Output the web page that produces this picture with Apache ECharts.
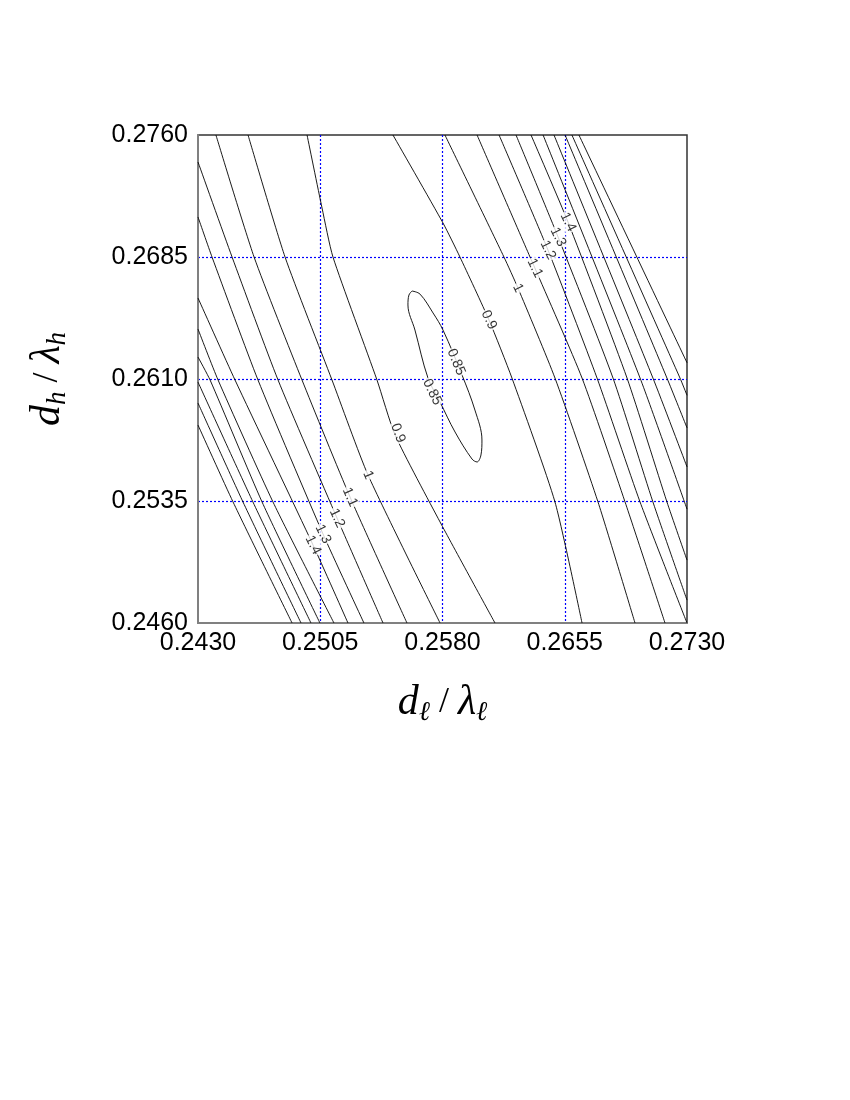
<!DOCTYPE html>
<html>
<head>
    <meta charset="utf-8">
    <title>Contour</title>
    <script src="https://cdn.jsdelivr.net/npm/echarts@6/dist/echarts.min.js"></script>
</head>
<body style="margin:0;background:#fff">
<div id="main" style="width:850px;height:1100px"></div>
<script type="text/javascript">
    // tick values
    var xTicks = [0.2430, 0.2505, 0.2580, 0.2655, 0.2730];
    var yTicks = [0.2460, 0.2535, 0.2610, 0.2685, 0.2760];

    // contour lines, points are [d_l/lambda_l, d_h/lambda_h]
    var c085 = [[0.25613, 0.26641], [0.25662, 0.26622], [0.25742, 0.26506], [0.25803, 0.26401], [0.25920, 0.26124],
        [0.25999, 0.25909], [0.26042, 0.25725], [0.26036, 0.25633], [0.26012, 0.25590], [0.25981, 0.25608],
        [0.25877, 0.25774], [0.25785, 0.25958], [0.25711, 0.26106], [0.25631, 0.26401], [0.25588, 0.26555],
        [0.25594, 0.26616], [0.25613, 0.26641]];

    var c09L = [[0.24969, 0.27600], [0.25061, 0.27151], [0.25128, 0.26850], [0.25398, 0.26094], [0.25509, 0.25756], [0.25785, 0.25221], [0.26122, 0.24600]];
    var c10L = [[0.24607, 0.27600], [0.24834, 0.26850], [0.25122, 0.26094], [0.25343, 0.25510], [0.25785, 0.24600]];
    var c11L = [[0.24410, 0.27600], [0.24644, 0.26850], [0.24938, 0.26094], [0.25233, 0.25374], [0.25582, 0.24600]];
    var c12L = [[0.24300, 0.27434], [0.24509, 0.26850], [0.24791, 0.26094], [0.25153, 0.25245], [0.25435, 0.24600]];
    var c13L = [[0.24300, 0.27096], [0.24386, 0.26850], [0.24668, 0.26094], [0.25067, 0.25147], [0.25318, 0.24600]];
    var c14L = [[0.24300, 0.26598], [0.24527, 0.26094], [0.25006, 0.25079], [0.25220, 0.24600]];
    var c15L = [[0.24300, 0.26407], [0.24423, 0.26094], [0.24760, 0.25344], [0.25134, 0.24600]];
    var c16L = [[0.24300, 0.26235], [0.24374, 0.26094], [0.24693, 0.25344], [0.25048, 0.24600]];
    var c17L = [[0.24300, 0.26081], [0.24637, 0.25344], [0.24993, 0.24600]];
    var c18L = [[0.24300, 0.25952], [0.24576, 0.25344], [0.24932, 0.24600]];
    var c19L = [[0.24300, 0.25817], [0.24515, 0.25344], [0.24877, 0.24600]];

    var c09R = [[0.25496, 0.27600], [0.25803, 0.27059], [0.25907, 0.26850], [0.26085, 0.26463], [0.26226, 0.26106], [0.26490, 0.25344], [0.26656, 0.24600]];
    var c10R = [[0.25815, 0.27600], [0.26177, 0.26850], [0.26263, 0.26659], [0.26490, 0.26106], [0.26754, 0.25344], [0.26981, 0.24600]];
    var c11R = [[0.26012, 0.27600], [0.26337, 0.26850], [0.26367, 0.26782], [0.26656, 0.26106], [0.26920, 0.25344], [0.27165, 0.24600]];
    var c12R = [[0.26147, 0.27600], [0.26447, 0.26893], [0.26748, 0.26106], [0.27012, 0.25344], [0.27300, 0.24600]];
    var c13R = [[0.26251, 0.27600], [0.26509, 0.26973], [0.26846, 0.26106], [0.27091, 0.25344], [0.27300, 0.24741]];
    var c14R = [[0.26343, 0.27600], [0.26570, 0.27065], [0.26932, 0.26106], [0.27177, 0.25344], [0.27300, 0.24987]];
    var c15R = [[0.26417, 0.27600], [0.27012, 0.26106], [0.27300, 0.25300]];
    var c16R = [[0.26484, 0.27600], [0.27091, 0.26106], [0.27300, 0.25560]];
    var c17R = [[0.26552, 0.27600], [0.27177, 0.26106], [0.27300, 0.25800]];
    var c18R = [[0.26594, 0.27600], [0.27257, 0.26106], [0.27300, 0.26000]];
    var c19R = [[0.26637, 0.27600], [0.27300, 0.26200]];

    var contourLines = [c085, c09L, c10L, c11L, c12L, c13L, c14L, c15L, c16L, c17L, c18L, c19L,
        c09R, c10R, c11R, c12R, c13R, c14R, c15R, c16R, c17R, c18R, c19R];

    // inline contour labels
    var labelText = ['0.85', '0.85', '0.9', '0.9', '1', '1', '1.1', '1.1', '1.2', '1.2', '1.3', '1.3', '1.4', '1.4'];
    var labelPos = [[0.25883, 0.26204], [0.25736, 0.26020],
        [0.26085, 0.26463], [0.25527, 0.25768],
        [0.26263, 0.26659], [0.25343, 0.25510],
        [0.26367, 0.26782], [0.25233, 0.25374],
        [0.26447, 0.26893], [0.25153, 0.25245],
        [0.26509, 0.26973], [0.25067, 0.25147],
        [0.26570, 0.27065], [0.25006, 0.25079]];
    var labelAngle = [-67, -64, -65, -70, -64, -67, -64, -66, -64, -65, -64, -64, -64, -64];

    var myChart = echarts.init(document.getElementById('main'), null, { renderer: 'canvas' });

    var series = [];
    contourLines.forEach(function (pts, i) {
        series.push({
            type: 'line',
            data: pts,
            showSymbol: false,
            silent: true,
            smooth: i === 0 ? 0.35 : 0.2,
            lineStyle: { color: '#000', width: 0.9 },
            z: 3
        });
    });

    var labelData = labelText.map(function (t, i) {
        return {
            name: t,
            value: labelPos[i],
            label: { rotate: labelAngle[i] }
        };
    });
    series.push({
        type: 'scatter',
        data: labelData,
        symbolSize: 1,
        silent: true,
        itemStyle: { color: 'rgba(0,0,0,0)' },
        label: {
            show: true,
            position: 'inside',
            formatter: '{b}',
            color: '#000',
            fontSize: 14,
            fontFamily: 'Liberation Sans, Arial, sans-serif',
            backgroundColor: '#fff',
            padding: [0, 1]
        },
        z: 5
    });

    var nameRich = {
        i: { fontFamily: 'Liberation Serif, serif', fontStyle: 'italic', fontSize: 42, lineHeight: 44, color: '#000' },
        g: { fontFamily: 'Liberation Serif, serif', fontStyle: 'italic', fontSize: 42, lineHeight: 44, color: '#000' },
        n: { fontFamily: 'Liberation Serif, serif', fontSize: 36, lineHeight: 44, color: '#000' },
        s: {
            fontFamily: 'Liberation Serif, DejaVu Serif, serif',
            fontStyle: 'italic',
            fontSize: 27,
            lineHeight: 24,
            padding: [20, 0, 0, 0],
            color: '#000'
        }
    };

    var gridLine = {
        show: true, showMinLine: false, showMaxLine: false,
        lineStyle: { color: '#0000ff', type: [2, 2], width: 1.2 }
    };

    var option = {
        animation: false,
        backgroundColor: '#fff',
        grid: {
            left: 198, top: 135, width: 489, height: 488,
            show: true, borderColor: '#333', borderWidth: 1.5
        },
        xAxis: {
            type: 'value',
            min: 0.2430,
            max: 0.2730,
            name: '{i|d}{s|ℓ}{n| / }{g|λ}{s|ℓ}',
            nameLocation: 'middle',
            nameGap: 58,
            nameTextStyle: { rich: nameRich },
            axisLine: { show: true, lineStyle: { color: '#808080', width: 2 } },
            axisTick: { show: false, customValues: xTicks },
            axisLabel: {
                customValues: xTicks,
                formatter: function (v) { return v.toFixed(4); },
                fontSize: 25,
                fontFamily: 'Liberation Sans, Arial, sans-serif',
                color: '#000',
                margin: 8
            },
            splitLine: gridLine
        },
        yAxis: {
            type: 'value',
            min: 0.2460,
            max: 0.2760,
            name: '{i|d}{s|h}{n| / }{g|λ}{s|h}',
            nameLocation: 'middle',
            nameRotate: 90,
            nameGap: 128,
            nameTextStyle: { rich: nameRich },
            axisLine: { show: true, lineStyle: { color: '#808080', width: 2 } },
            axisTick: { show: false, customValues: yTicks },
            axisLabel: {
                customValues: yTicks,
                formatter: function (v) { return v.toFixed(4); },
                fontSize: 25,
                fontFamily: 'Liberation Sans, Arial, sans-serif',
                color: '#000',
                margin: 10
            },
            splitLine: gridLine
        },
        series: series
    };

    myChart.setOption(option);
    window.onresize = myChart.resize;
</script>
</body>
</html>
